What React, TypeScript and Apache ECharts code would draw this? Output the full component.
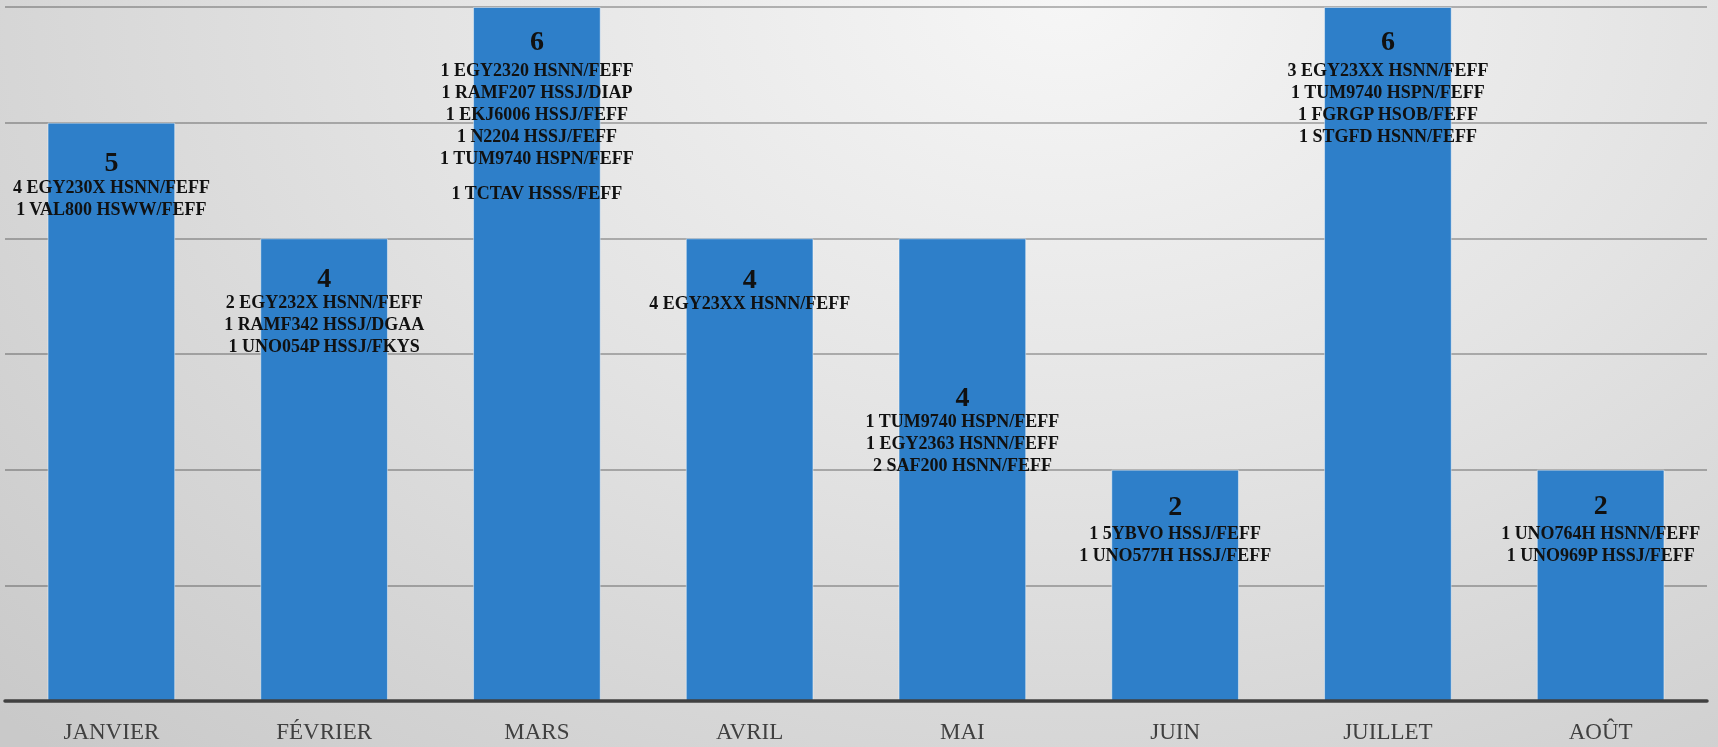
import React, { useEffect, useRef } from "react";
import * as echarts from "echarts";

const months = ["JANVIER", "FÉVRIER", "MARS", "AVRIL", "MAI", "JUIN", "JUILLET", "AOÛT"];
const counts = [5, 4, 6, 4, 4, 2, 6, 2];
const details: string[][] = [
  ["4 EGY230X HSNN/FEFF", "1 VAL800 HSWW/FEFF"],
  ["2 EGY232X HSNN/FEFF", "1 RAMF342 HSSJ/DGAA", "1 UNO054P HSSJ/FKYS"],
  ["1 EGY2320 HSNN/FEFF", "1 RAMF207 HSSJ/DIAP", "1 EKJ6006 HSSJ/FEFF", "1 N2204 HSSJ/FEFF", "1 TUM9740 HSPN/FEFF", "", "1 TCTAV HSSS/FEFF"],
  ["4 EGY23XX HSNN/FEFF"],
  ["1 TUM9740 HSPN/FEFF", "1 EGY2363 HSNN/FEFF", "2 SAF200 HSNN/FEFF"],
  ["1 5YBVO HSSJ/FEFF", "1 UNO577H HSSJ/FEFF"],
  ["3 EGY23XX HSNN/FEFF", "1 TUM9740 HSPN/FEFF", "1 FGRGP HSOB/FEFF", "1 STGFD HSNN/FEFF"],
  ["1 UNO764H HSNN/FEFF", "1 UNO969P HSSJ/FEFF"],
];

// styling per bar: label distance from the bar top, and height of the number's line
const labelGaps = [25, 25, 14, 26, 144, 20, 14, 18];
const numberLineHeights = [28, 28, 38, 28, 28, 32, 38, 34];

export default function App() {
  const ref = useRef<HTMLDivElement>(null);
  useEffect(() => {
    document.body.style.margin = "0";
    const chart = echarts.init(ref.current!, null, { renderer: "svg" });
    const font = "'Liberation Serif', 'Times New Roman', serif";
    const baseRich = {
      l: { fontFamily: font, fontSize: 18, fontWeight: "bold", lineHeight: 22, color: "#111", align: "center" },
      g: { fontFamily: font, fontSize: 8, lineHeight: 13 },
    };
    chart.setOption({
      animation: false,
      backgroundColor: "transparent",
      grid: { left: 5, right: 11, top: 7, bottom: 46, containLabel: false },
      xAxis: {
        type: "category",
        data: months,
        axisLine: { show: true, lineStyle: { color: "#404040", width: 3.5 } },
        axisTick: { show: false },
        axisLabel: { color: "#404040", fontFamily: font, fontSize: 23, margin: 19 },
        z: 10,
      },
      yAxis: {
        type: "value",
        min: 0,
        max: 6,
        interval: 1,
        axisLabel: { show: false },
        axisLine: { show: false },
        axisTick: { show: false },
        splitLine: { lineStyle: { color: "rgba(0,0,0,0.26)", width: 2 } },
      },
      series: [
        {
          type: "bar",
          barWidth: "60%",
          itemStyle: { color: "#2e7fc9", borderColor: "rgba(255,255,255,0.45)", borderWidth: 1 },
          data: counts.map((v, i) => ({
            value: v,
            label: {
              distance: labelGaps[i],
              rich: {
                ...baseRich,
                n: {
                  fontFamily: font,
                  fontSize: 28,
                  fontWeight: "bold",
                  lineHeight: numberLineHeights[i],
                  color: "#111",
                  align: "center",
                },
              },
            },
          })),
          label: {
            show: true,
            position: "insideTop",
            color: "#111",
            fontFamily: font,
            formatter: (p: any) => {
              const lines = details[p.dataIndex].map((s) => (s === "" ? "{g| }" : `{l|${s}}`));
              return [`{n|${counts[p.dataIndex]}}`, ...lines].join("\n");
            },
          },
        },
      ],
    });
    return () => chart.dispose();
  }, []);
  return (
    <div
      style={{
        position: "fixed",
        left: 0,
        top: 0,
        width: 1718,
        height: 747,
        background:
          "radial-gradient(ellipse 85% 140% at 62% 0%, #f6f6f6 0%, #e3e3e3 45%, #c9c9c9 100%)",
      }}
    >
      <div ref={ref} style={{ width: 1718, height: 747 }} />
    </div>
  );
}
